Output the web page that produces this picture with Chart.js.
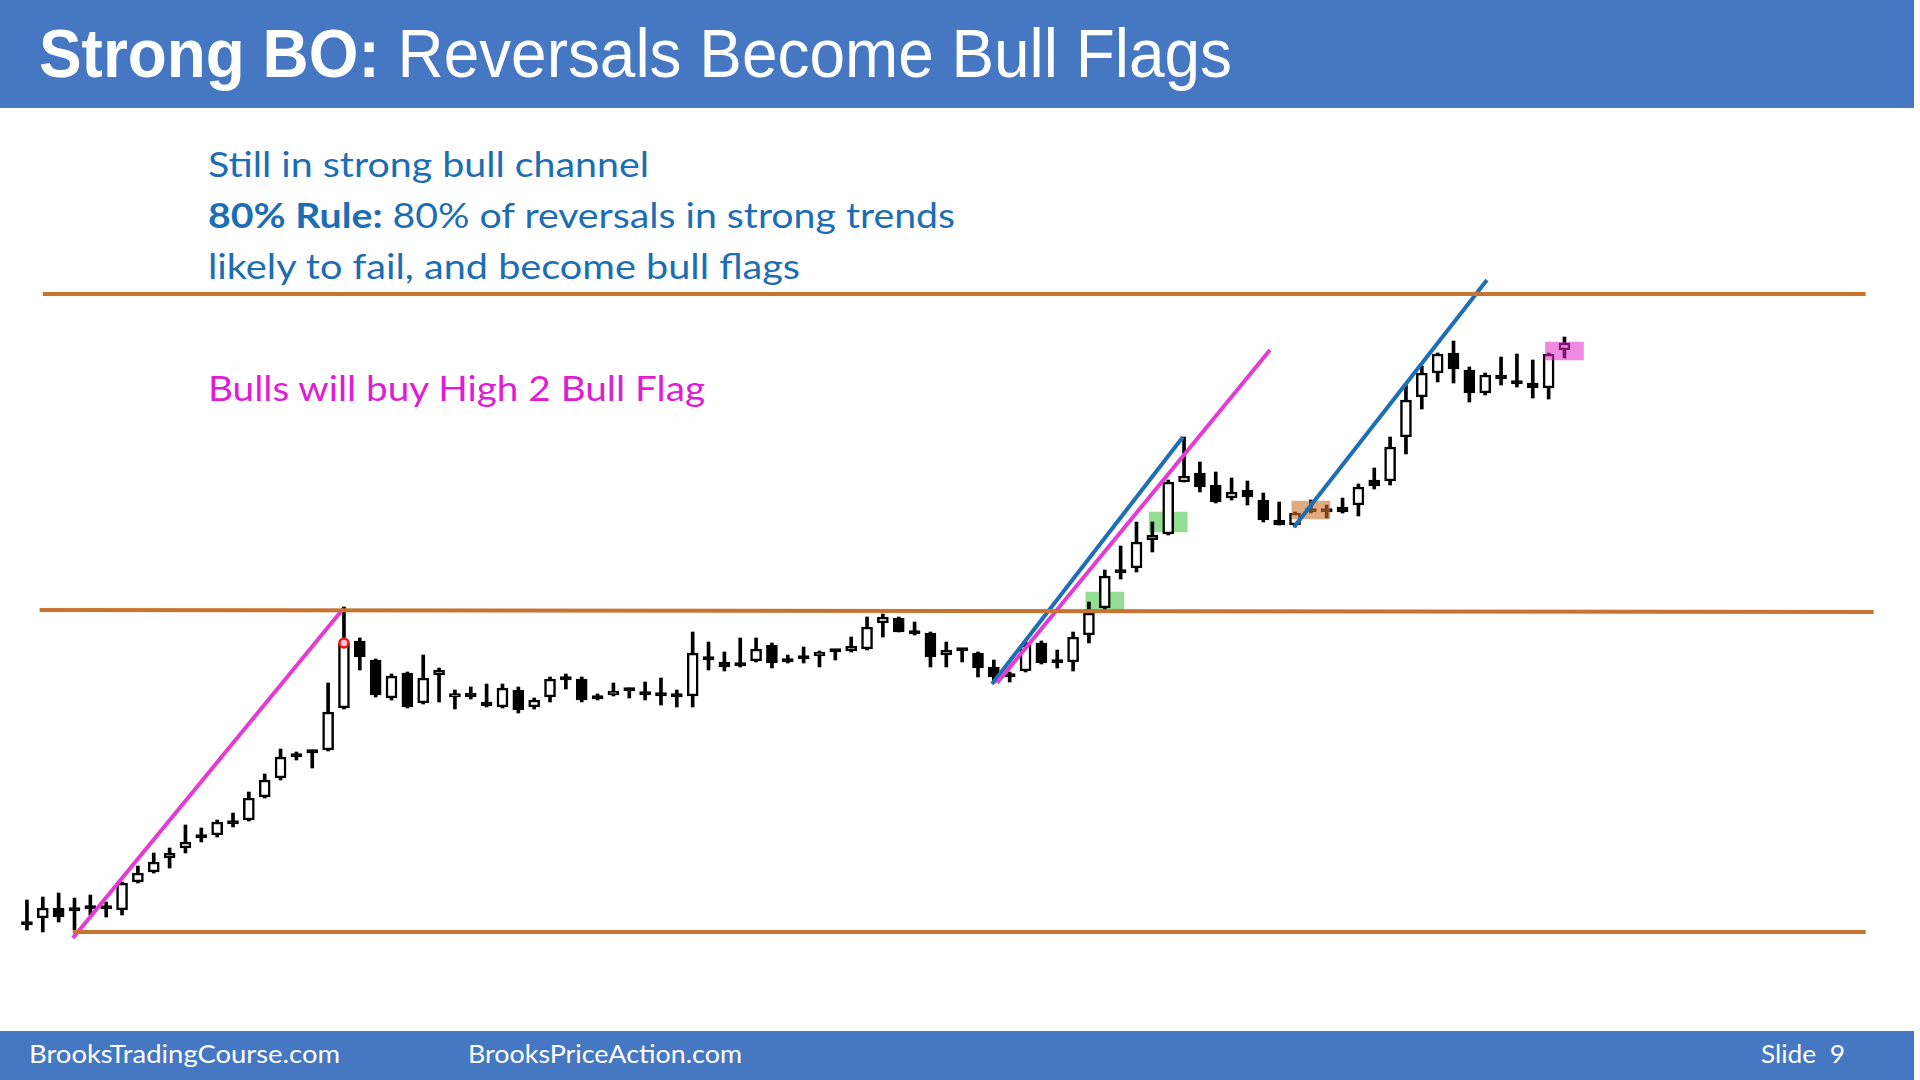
<!DOCTYPE html>
<html>
<head>
<meta charset="utf-8">
<title>Strong BO: Reversals Become Bull Flags</title>
<script src="https://cdn.jsdelivr.net/npm/chart.js@4.4.1/dist/chart.umd.min.js"></script>
<style>
  html, body { margin: 0; padding: 0; background: #fff; }
  #slide { position: relative; width: 1920px; height: 1080px; overflow: hidden; background: #fff; }
  .band { position: absolute; left: 0; width: 1914px; background: #4677c2; }
  #header { top: 0; height: 108px; }
  #footer { top: 1031px; height: 49px; }
  #chart { position: absolute; left: 0; top: 0; }
  .txt { position: absolute; white-space: nowrap; transform-origin: 0 0; }
  #title { left: 39px; top: 19px; font: 68px/68px "Liberation Sans", Arial, sans-serif; color: #fff; }
  .note { left: 208px; font: 35px/35px Lato, sans-serif; color: #1c6db4; }
  .note b { font-weight: 700; }
  #line1 { top: 146px; }
  #line2 { top: 197px; }
  #line3 { top: 248px; }
  #bulls { top: 370px; color: #e01cd5; }
  .foot { top: 1041px; font: 25px/25px Lato, sans-serif; color: #fff; }
  #site1 { left: 29px; }
  #site2 { left: 468px; }
  #slideNo { left: 1761px; }
</style>
</head>
<body>
<div id="slide">
  <div id="header" class="band"></div>
  <div id="title" class="txt"><b>Strong BO:</b> Reversals Become Bull Flags</div>
  <div id="line1" class="txt note">Still in strong bull channel</div>
  <div id="line2" class="txt note"><b>80% Rule:</b> 80% of reversals in strong trends</div>
  <div id="line3" class="txt note">likely to fail, and become bull flags</div>
  <div id="bulls" class="txt note">Bulls will buy High 2 Bull Flag</div>
  <canvas id="chart" width="1920" height="1080"></canvas>
  <div id="footer" class="band"></div>
  <div id="site1" class="txt foot">BrooksTradingCourse.com</div>
  <div id="site2" class="txt foot">BrooksPriceAction.com</div>
  <div id="slideNo" class="txt foot">Slide&nbsp;&nbsp;9</div>
</div>
<script>
// CANDLES (price units, one entry per bar, left to right)
const opens = [
  102.25, 103.5, 106, 105.75, 106.25, 106.25, 105.5, 112.5, 115, 118.5,
  121, 124, 124.25, 127.5, 128, 133.75, 138.5, 144.25, 145.25, 145.5,
  156, 172.75, 168, 158.5, 164.75, 157.25, 164.25, 158.75, 159.75, 157.5,
  156.25, 160.5, 156.25, 158.75, 163.5, 163.25, 158.75, 159.25, 160.75, 159.75,
  159.5, 159.25, 159, 168.5, 167.5, 167, 167.75, 171.75, 168, 168.75,
  169, 170.5, 170.25, 170.75, 177.25, 178.5, 175, 174.75, 169.25, 170.75,
  169.75, 166.25, 164.25, 165.25, 172.25, 167.75, 167.5, 174.25, 181, 190.25,
  191, 198, 199.5, 212.5, 214.75, 211.75, 208.5, 210.5, 208, 203,
  201.75, 205.5, 205.5, 206.25, 206.75, 213, 212.75, 223.75, 233.75, 239.75,
  244.75, 240.5, 234.75, 239.25, 237.5, 237.25, 236, 245.5
];
const highs = [
  108, 108.75, 109.75, 108.5, 109.25, 107.5, 112.5, 116.5, 119.75, 121,
  126.75, 126, 128, 129.75, 135, 139.5, 145.75, 145, 145.5, 162.25,
  181.25, 173.5, 168.25, 164.5, 165, 169.25, 166, 160.5, 161.25, 162,
  162, 161.25, 158.5, 163.75, 164.5, 163.75, 159.5, 162.25, 161, 162.5,
  163.5, 160.5, 175, 172.5, 170, 173.5, 173.5, 172.25, 169.25, 171.25,
  170.25, 170.5, 173.75, 178.75, 179.5, 178.75, 177.5, 175, 172.5, 170.75,
  170, 168, 165, 172.5, 172.75, 170.5, 175, 182.5, 190.5, 196.5,
  202.5, 202.5, 213, 223.75, 217.5, 215, 213.5, 212.75, 209.75, 207.5,
  205, 208, 206.75, 208.5, 212, 216, 223.75, 236.75, 241.5, 244.75,
  247.75, 241.25, 239.75, 243.75, 244.5, 243, 244.75, 248.75
];
const lows = [
  100.5, 100, 102.5, 100.5, 104.25, 103.75, 104.25, 112.25, 114.75, 116,
  119.75, 122.5, 123.75, 126.25, 127.75, 133.5, 138, 143, 141, 145.25,
  155.75, 165.5, 158.75, 158, 156, 157, 157.5, 155.75, 158.25, 156.25,
  156, 154.75, 155.75, 157.5, 160.75, 157.5, 158, 159, 158.5, 158,
  156.75, 156.25, 156.25, 165.5, 165.25, 166.25, 167.5, 166, 167.25, 167.25,
  166.25, 168, 170, 170.5, 173.75, 175, 174.25, 166.25, 166.25, 167.5,
  163.75, 162.25, 162.5, 165, 167, 166, 165.25, 172.25, 180.5, 188.25,
  190, 195, 199.25, 212.5, 210, 207.25, 208, 206.75, 202.5, 201.75,
  201.25, 204.75, 203.5, 204.75, 204, 210.75, 211.75, 219.5, 230.75, 237.5,
  237.25, 232.5, 234.25, 236.75, 236.25, 233.5, 233.25, 243.5
];
const closes = [
  101.75, 106, 103.75, 105.25, 105.75, 105.75, 112.25, 114.75, 117.5, 119.75,
  122.5, 123.5, 127.5, 127, 133.5, 138, 143.75, 143.75, 144.75, 155,
  172.25, 168.75, 159.25, 164, 156.25, 163.5, 165.5, 159.5, 158.75, 156.5,
  161, 155.5, 158, 163.25, 163, 158, 158.25, 160.25, 160.25, 159.25,
  159, 158.75, 169.75, 168, 166.25, 166.5, 170.75, 167.25, 167.5, 168.25,
  170, 170, 171.5, 176.25, 178.75, 175, 174.5, 168.75, 170.5, 170.25,
  166, 163.75, 163.75, 171.75, 167.25, 167.25, 173.75, 179.75, 189, 189.75,
  197.5, 199.25, 212.5, 214, 211.25, 207.5, 210, 208.75, 203, 201.75,
  204.75, 205, 205, 205, 211.25, 211.5, 221.25, 233, 239.75, 244.5,
  240.75, 234.75, 239.25, 238.25, 237, 236, 244.5, 247.25
];

// HORIZONTAL LEVELS: [startBar, startPrice, endBar, endPrice]
const rangeTop = [1.0, 259.5, 116.0, 259.5];
const breakoutLevel = [0.8, 180.5, 116.5, 180];
const rangeBottom = [2.9, 100, 116.0, 100];

// TREND LINES: [startBar, startPrice, endBar, endPrice]
const firstLeg = [2.9, 98.5, 19.94, 180.75];
const secondLegBlue = [60.88, 162, 72.93, 223.75];
const secondLegPink = [61.2, 162.25, 78.42, 245.5];
const thirdLeg = [79.94, 201.25, 92.11, 263];

// HIGHLIGHTED BARS: bar index and price range
const greenBars = [68, 72];
const greenRanges = [[180.25, 185], [200, 205]];
const orangeBars = [81];
const orangeRanges = [[203.25, 207.75]];
const pinkBars = [97];
const pinkRanges = [[243, 247.5]];
const signalBar = 20;
const signalPrice = 172.25;

const bars = opens.map((_, i) => i);

function segment(line) {
  return [{ x: line[0], y: line[1] }, { x: line[2], y: line[3] }];
}

function lineSet(line, color, width) {
  return {
    type: "line",
    data: segment(line),
    borderColor: color,
    borderWidth: width,
    pointRadius: 0,
    tension: 0,
    order: 0
  };
}

function zoneSet(barList, ranges, color, order) {
  return {
    type: "bar",
    data: barList.map((b, k) => ({ x: b, y: ranges[k] })),
    backgroundColor: color,
    borderWidth: 0,
    barThickness: 38,
    grouped: false,
    order: order
  };
}

function renderChart() {
  const ctx = document.getElementById("chart");
  const levelColor = "#c97330";
  const pink = "#e43cd2";
  const blue = "#1d6fb6";

  new Chart(ctx, {
    type: "bar",
    data: {
      datasets: [
        lineSet(rangeTop, levelColor, 4),
        lineSet(breakoutLevel, levelColor, 4),
        lineSet(rangeBottom, levelColor, 4),
        lineSet(firstLeg, pink, 4),
        lineSet(secondLegPink, pink, 4),
        lineSet(secondLegBlue, blue, 4),
        lineSet(thirdLeg, blue, 4),
        {
          type: "line",
          data: [{ x: signalBar, y: signalPrice }],
          showLine: false,
          pointRadius: 4.5,
          pointBackgroundColor: "#ffc4c4",
          pointBorderColor: "#e8141c",
          pointBorderWidth: 2.5,
          order: 0
        },
        zoneSet(orangeBars, orangeRanges, "rgba(205, 115, 45, 0.6)", 1),
        zoneSet(pinkBars, pinkRanges, "rgba(225, 40, 200, 0.55)", 1),
        {
          type: "bar",
          data: bars.map((i) => ({ x: i, y: [opens[i], closes[i]] })),
          backgroundColor: bars.map((i) => (closes[i] >= opens[i] ? "#ffffff" : "#000000")),
          borderColor: "#000000",
          borderWidth: 2.5,
          borderSkipped: false,
          barThickness: 11,
          minBarLength: 3.5,
          grouped: false,
          order: 2
        },
        {
          type: "bar",
          data: bars.map((i) => ({ x: i, y: [lows[i], highs[i]] })),
          backgroundColor: "#000000",
          borderWidth: 0,
          barThickness: 3,
          grouped: false,
          order: 3
        },
        zoneSet(greenBars, greenRanges, "rgba(120, 214, 120, 0.8)", 4)
      ]
    },
    options: {
      responsive: false,
      animation: false,
      events: [],
      layout: { padding: 0, autoPadding: false },
      plugins: {
        legend: { display: false },
        tooltip: { enabled: false }
      },
      scales: {
        x: { type: "linear", min: -1.7, max: 119.43, display: false, offset: false },
        y: { type: "linear", min: 63, max: 333, display: false }
      }
    }
  });
}

// stretch each text line to the width it has on the slide
function fitWidth(id, width) {
  const el = document.getElementById(id);
  el.style.transform = "none";
  const actual = el.getBoundingClientRect().width;
  el.style.transform = `scaleX(${width / actual})`;
}

function fitTexts() {
  fitWidth("title", 1193);
  fitWidth("line1", 441);
  fitWidth("line2", 747);
  fitWidth("line3", 592);
  fitWidth("bulls", 497);
  fitWidth("site1", 311);
  fitWidth("site2", 274);
  fitWidth("slideNo", 84);
}

renderChart();
fitTexts();
document.fonts.ready.then(fitTexts);
</script>
</body>
</html>
